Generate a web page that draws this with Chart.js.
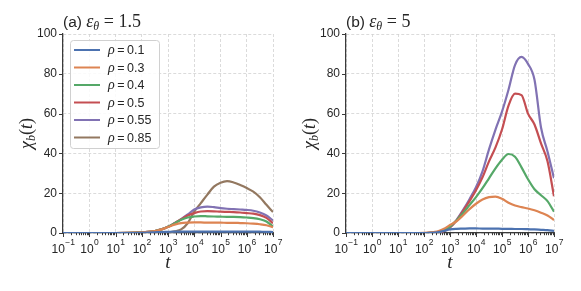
<!DOCTYPE html>
<html>
<head>
<meta charset="utf-8">
<script src="https://cdn.jsdelivr.net/npm/chart.js@4"></script>
<style>
  body { margin: 0; background: #fff; }
  canvas { position: absolute; top: 0; }
  #ca { left: 0; }
  #cb { left: 290px; }
</style>
</head>
<body>
<canvas id="ca" width="290" height="291"></canvas>
<canvas id="cb" width="291" height="291"></canvas>
<script>
// time points (log spaced)
const times = [0.1, 1, 10, 31.6, 100, 178, 316, 562, 1000, 1778, 3162, 5623, 1e4, 17783, 31623, 56234,
  1e5, 177828, 316228, 562341, 1e6, 1778279, 3162278, 5623413, 1e7];
const rhoLabels = ['0.1', '0.3', '0.4', '0.5', '0.55', '0.85'];
const lineColors = ['#4c72b0', '#dd8452', '#55a868', '#c44e52', '#8172b3', '#937860'];
const yTicks = [0, 20, 40, 60, 80, 100];
const xExponents = [-1, 0, 1, 2, 3, 4, 5, 6, 7];

// (a) eps_theta = 1.5
const chiA_01 = [0, 0, 0, 0, 0.1, 0.2, 0.35, 0.5, 0.6, 0.7, 0.7, 0.7, 0.7, 0.7, 0.7, 0.7, 0.7, 0.7, 0.7, 0.7, 0.7, 0.7, 0.65, 0.6, 0.5];
const chiA_03 = [0, 0, 0, 0.05, 0.3, 0.6, 1.0, 1.8, 3.0, 4.2, 5.0, 5.2, 5.3, 5.3, 5.2, 5.2, 5.2, 5.1, 5.1, 5.0, 4.9, 4.7, 4.4, 3.9, 2.9];
const chiA_04 = [0, 0, 0, 0.05, 0.3, 0.55, 1.0, 1.8, 3.1, 4.8, 6.6, 7.8, 8.3, 8.5, 8.4, 8.3, 8.2, 8.1, 8.1, 8.0, 7.8, 7.5, 6.9, 5.8, 3.3];
const chiA_05 = [0, 0, 0, 0.05, 0.3, 0.55, 1.0, 1.8, 3.1, 4.9, 6.9, 8.8, 10.0, 10.8, 11.0, 10.9, 10.7, 10.6, 10.5, 10.3, 10.0, 9.7, 9.0, 7.6, 4.9];
const chiA_055 = [0, 0, 0, 0.05, 0.3, 0.55, 1.0, 1.8, 3.1, 5.0, 7.0, 9.3, 11.8, 12.9, 13.3, 13.0, 12.5, 12.2, 12.0, 11.8, 11.6, 11.2, 10.3, 8.8, 6.3];
const chiA_085 = [0, 0, 0, 0, 0, 0, 0, 0.1, 0.2, 0.8, 1.8, 4.9, 10.7, 15.0, 19.3, 23.3, 25.3, 26.1, 25.4, 24.1, 22.6, 20.8, 18.0, 14.2, 10.5];

// (b) eps_theta = 5
const chiB_01 = [0, 0, 0, 0, 0, 0.1, 0.3, 1.0, 1.8, 2.1, 2.2, 2.3, 2.3, 2.2, 2.2, 2.2, 2.1, 2.1, 2.0, 2.0, 1.9, 1.8, 1.6, 1.4, 1.1];
const chiB_03 = [0, 0, 0, 0, 0.1, 0.3, 0.7, 2.0, 4.0, 5.9, 8.8, 12.0, 14.7, 16.8, 18.0, 18.3, 17.2, 15.2, 13.8, 13.0, 12.3, 11.4, 10.2, 8.8, 6.5];
const chiB_04 = [0, 0, 0, 0, 0, 0.15, 0.4, 1.2, 3.2, 6.3, 9.9, 14.0, 18.0, 22.5, 27.5, 32.5, 36.8, 39.7, 38.3, 33.0, 27.0, 22.0, 19.0, 16.0, 10.7];
const chiB_05 = [0, 0, 0, 0, 0, 0.1, 0.3, 0.9, 2.8, 6.3, 11.0, 16.0, 21.5, 28.0, 36.0, 43.0, 52.0, 64.0, 70.0, 69.3, 60.0, 54.5, 45.0, 36.0, 18.5];
const chiB_055 = [0, 0, 0, 0, 0, 0.1, 0.3, 0.9, 2.8, 6.5, 11.5, 17.0, 23.0, 31.0, 42.0, 52.0, 61.0, 72.0, 84.4, 88.5, 85.0, 77.0, 53.0, 41.0, 27.5];

const seriesA = [chiA_01, chiA_03, chiA_04, chiA_05, chiA_055, chiA_085];
const seriesB = [chiB_01, chiB_03, chiB_04, chiB_05, chiB_055];

const TXT = '#262626';
const SANS = '"Liberation Sans", Arial, sans-serif';
const SERIF = '"Liberation Serif", serif';

function drawParts(ctx, parts, x, y) {
  // parts: [text, font, dy]
  for (const [t, f, dy] of parts) {
    ctx.font = f;
    ctx.fillText(t, x, y + (dy || 0));
    x += ctx.measureText(t).width;
  }
  return x;
}

function partsWidth(ctx, parts) {
  let w = 0;
  for (const [t, f] of parts) { ctx.font = f; w += ctx.measureText(t).width; }
  return w;
}

const decor = {
  id: 'decor',
  afterDraw(chart, args, opts) {
    const { ctx, chartArea: a, scales: { x, y } } = chart;
    ctx.save();
    ctx.strokeStyle = '#3a3a3a';
    ctx.lineWidth = 1;
    ctx.fillStyle = TXT;
    // tick marks
    ctx.beginPath();
    for (const v of yTicks) {
      const py = Math.round(y.getPixelForValue(v)) + 0.5;
      ctx.moveTo(a.left - 4, py); ctx.lineTo(a.left, py);
    }
    for (let e = -1; e <= 7; e++) {
      for (let m = 1; m < 10; m++) {
        const v = m * Math.pow(10, e);
        if (v > 1e7 * 1.0001) break;
        const px = Math.round(x.getPixelForValue(v)) + 0.5;
        ctx.moveTo(px, a.bottom); ctx.lineTo(px, a.bottom + (m === 1 ? 4 : 2.2));
      }
    }
    ctx.stroke();
    // x tick labels 10^n
    ctx.textBaseline = 'alphabetic';
    ctx.textAlign = 'left';
    for (const e of xExponents) {
      const px = x.getPixelForValue(Math.pow(10, e));
      const ex = e < 0 ? '\u2212' + (-e) : String(e);
      ctx.font = '12px ' + SANS;
      const bw = ctx.measureText('10').width;
      ctx.font = '8.5px ' + SANS;
      const ew = ctx.measureText(ex).width;
      const sx = px - (bw + ew) / 2;
      ctx.font = '12px ' + SANS;
      ctx.fillText('10', sx, a.bottom + 20);
      ctx.font = '8.5px ' + SANS;
      ctx.fillText(ex, sx + bw + 0.5, a.bottom + 11.5);
    }
    // x label
    ctx.font = 'italic 19px ' + SERIF;
    ctx.textAlign = 'center';
    ctx.fillText('t', (a.left + a.right) / 2, a.bottom + 35);
    // y label chi_b(t)
    ctx.save();
    ctx.translate(a.left - 31, (a.top + a.bottom) / 2);
    ctx.rotate(-Math.PI / 2);
    ctx.textAlign = 'left';
    const yl = [['\u03c7', 'italic 18px ' + SERIF, 0], ['b', 'italic 12px ' + SERIF, 3],
      ['(', '18px ' + SERIF, 0], ['t', 'italic 18px ' + SERIF, 0], [')', '18px ' + SERIF, 0]];
    drawParts(ctx, yl, -partsWidth(ctx, yl) / 2, 0);
    ctx.restore();
    // title
    ctx.textAlign = 'left';
    drawParts(ctx, [[opts.tag + ' ', '15.5px ' + SANS, 0], ['\u03b5', 'italic 18px ' + SERIF, 0],
      ['\u03b8', 'italic 12px ' + SERIF, 3], [' = ' + opts.eps, '18px ' + SERIF, 0]], a.left, a.top - 7);
    // legend
    if (opts.legend) {
      const lx = 70, ly = 40, lw = 89, lh = 108;
      ctx.beginPath();
      ctx.roundRect(lx + 0.5, ly + 0.5, lw, lh, 3);
      ctx.fillStyle = 'rgba(255,255,255,0.85)';
      ctx.fill();
      ctx.strokeStyle = '#d0d0d0';
      ctx.lineWidth = 1;
      ctx.stroke();
      chart.data.datasets.forEach((ds, i) => {
        const cy = ly + 10 + i * 17.5;
        ctx.strokeStyle = ds.borderColor;
        ctx.lineWidth = 2;
        ctx.beginPath();
        ctx.moveTo(lx + 4, cy); ctx.lineTo(lx + 30, cy);
        ctx.stroke();
        ctx.fillStyle = TXT;
        drawParts(ctx, [['\u03c1', 'italic 14px ' + SERIF, 0], ['\u2009=\u2009' + rhoLabels[i], '12.5px ' + SANS, 0]], lx + 38, cy + 4);
      });
    }
    ctx.restore();
  }
};

function makeChart(id, series, tag, eps, legend, axisW, padRight) {
  const datasets = series.map((vals, i) => ({
    label: '\u03c1 = ' + rhoLabels[i],
    data: vals,
    borderColor: lineColors[i],
    backgroundColor: lineColors[i],
    borderWidth: 2.2,
    pointRadius: 0,
    cubicInterpolationMode: 'monotone',
    fill: false
  }));
  return new Chart(document.getElementById(id), {
    type: 'line',
    data: { labels: times, datasets },
    options: {
      responsive: false,
      animation: false,
      layout: { padding: { left: 0, right: padRight, top: 34, bottom: 0 } },
      plugins: { legend: { display: false }, tooltip: { enabled: false }, decor: { tag, eps, legend } },
      scales: {
        x: {
          type: 'logarithmic',
          min: 0.1, max: 1e7,
          ticks: { display: false },
          grid: {
            drawTicks: false,
            lineWidth: 0.8,
            color: c => {
              const v = c.tick ? c.tick.value : 0;
              const l = Math.log10(v);
              return Math.abs(l - Math.round(l)) < 1e-6 ? '#d2d2d2' : 'rgba(0,0,0,0)';
            }
          },
          border: { display: true, color: '#3a3a3a', width: 1.25, dash: [3, 2] },
          afterFit: s => { s.height = 58; }
        },
        y: {
          min: 0, max: 100,
          ticks: { stepSize: 20, padding: 6, color: TXT, font: { family: 'Liberation Sans', size: 12 } },
          grid: { drawTicks: false, lineWidth: 0.8, color: '#d2d2d2' },
          border: { display: true, color: '#3a3a3a', width: 1.25, dash: [3, 2] },
          afterFit: s => { s.width = axisW; }
        }
      }
    },
    plugins: [decor]
  });
}

makeChart('ca', seriesA, '(a)', '1.5', true, 63, 17);
makeChart('cb', seriesB, '(b)', '5', false, 56, 27);
</script>
</body>
</html>
